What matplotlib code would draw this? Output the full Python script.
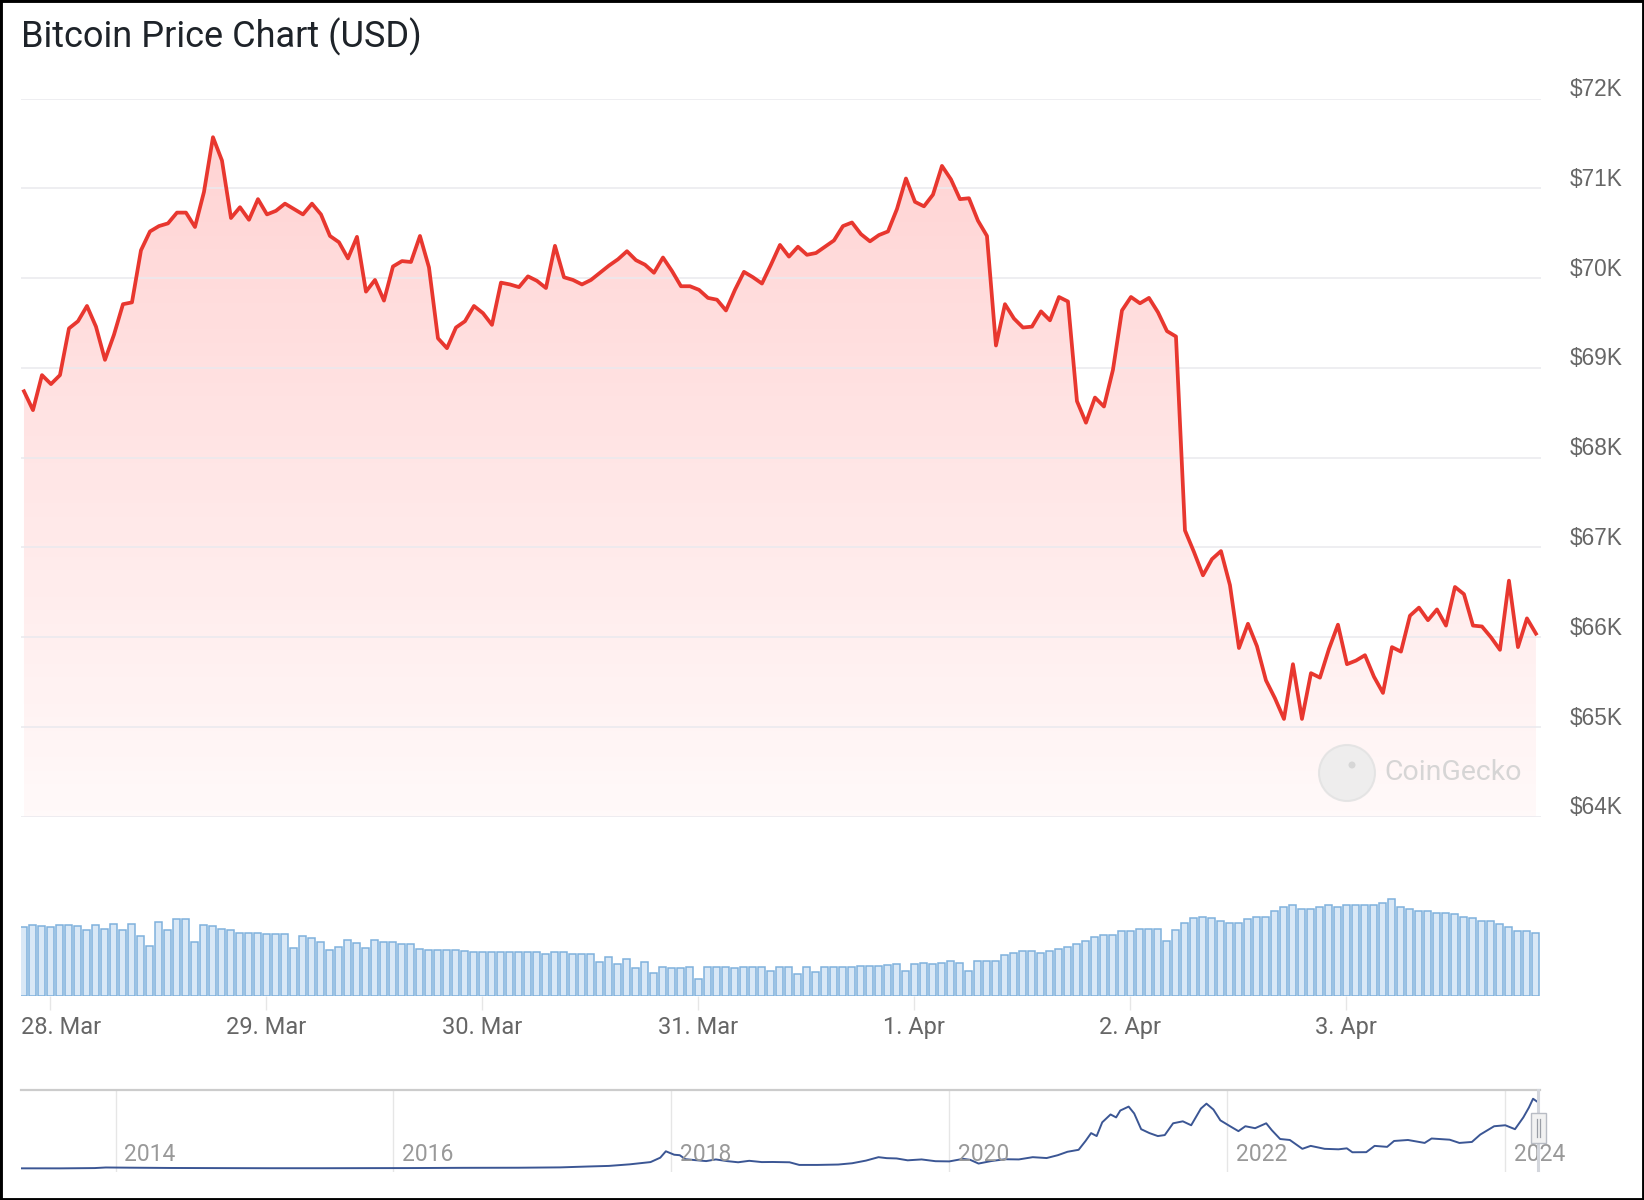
import numpy as np
import pandas as pd
import matplotlib
matplotlib.use("Agg")
import matplotlib.pyplot as plt
import matplotlib.dates as mdates
from matplotlib.transforms import ScaledTranslation, blended_transform_factory
from matplotlib.patches import Polygon, Rectangle, Circle

# ---------------- data ----------------
start_time = "2024-03-27 21:05"   # hourly data

price_k = [
    68.74, 68.53, 68.92, 68.82, 68.92, 69.44, 69.52, 69.69, 69.46, 69.09,
    69.37, 69.71, 69.73, 70.31, 70.52, 70.58, 70.61, 70.73, 70.73, 70.57,
    70.96, 71.57, 71.31, 70.67, 70.79, 70.65, 70.88, 70.71, 70.75, 70.83,
    70.77, 70.71, 70.83, 70.71, 70.47, 70.40, 70.22, 70.46, 69.85, 69.98,
    69.75, 70.13, 70.19, 70.18, 70.47, 70.12, 69.33, 69.22, 69.45, 69.52,
    69.69, 69.61, 69.48, 69.95, 69.93, 69.90,
    70.02, 69.97, 69.89, 70.36, 70.01, 69.98, 69.93, 69.98, 70.06, 70.14,
    70.21, 70.30, 70.20, 70.15, 70.06, 70.23, 70.08, 69.91, 69.91, 69.87,
    69.78, 69.76, 69.64, 69.87, 70.07, 70.01, 69.94, 70.15, 70.37, 70.24,
    70.35, 70.26, 70.28, 70.35, 70.42, 70.58, 70.62, 70.49, 70.41, 70.48,
    70.52, 70.77, 71.11, 70.85, 70.80, 70.93, 71.25, 71.10, 70.88, 70.89,
    70.64, 70.47, 69.25, 69.71, 69.55,
    69.45, 69.46, 69.63, 69.53, 69.79, 69.74, 68.63, 68.39, 68.67, 68.57,
    68.98, 69.64, 69.79, 69.72, 69.78, 69.62, 69.41, 69.35, 67.19, 66.95,
    66.69, 66.87, 66.96, 66.58, 65.88, 66.15, 65.90,
    65.52, 65.32, 65.09, 65.70, 65.09, 65.60, 65.55, 65.87, 66.14, 65.70,
    65.74, 65.80, 65.56, 65.38, 65.89, 65.84, 66.24, 66.33, 66.19, 66.31,
    66.13, 66.56, 66.48, 66.13, 66.12, 66.00, 65.86, 66.63, 65.89, 66.21,
    66.04,
]

volume_b = [
    31.2, 32.1, 31.4, 31.2, 32.1, 32.1, 31.4, 29.6, 32.1, 30.3,
    32.3, 29.6, 32.3, 26.9, 22.4, 33.2, 29.6, 34.8, 34.8, 24.2,
    32.1, 31.4, 30.3, 29.6, 28.5, 28.5, 28.5, 27.8, 27.8, 27.8,
    21.5, 26.9, 26.0, 24.2, 20.6, 22.2, 25.1, 24.0, 21.5, 25.1,
    24.2, 24.2, 23.3, 23.3, 21.3, 20.6, 20.6, 20.6, 20.6, 20.3,
    19.8, 19.8, 19.8, 19.8, 19.8, 19.8, 19.8, 19.8, 19.1, 19.8,
    19.8, 19.1, 18.8, 18.8, 15.2, 17.7, 14.3, 16.8, 12.5, 15.3,
    10.5, 13.2, 12.5, 12.5, 13.2, 7.8,
    13.2, 13.2, 13.2, 12.5, 13.2, 13.2, 13.2, 11.3, 13.2, 13.2,
    10.0, 13.2, 11.0, 13.2, 13.2, 13.2, 13.2, 13.6, 13.6, 13.6, 14.0,
    14.3, 11.3, 14.3, 15.0, 14.3, 15.0, 15.8, 15.0, 11.3, 15.8,
    15.8, 15.8, 18.5, 19.5, 20.3, 20.3, 19.5, 20.3, 21.0, 22.1,
    23.3, 24.8, 26.6, 27.5, 27.5, 29.3, 29.3, 30.0, 30.0, 30.0,
    24.8, 29.6, 33.0, 35.0, 35.6, 35.0, 33.8, 33.0, 33.0, 34.8,
    35.6, 35.6, 38.3, 40.2, 41.0, 39.3, 39.3, 40.1, 41.0, 40.1,
    41.0, 41.0, 41.0, 41.0, 41.9, 43.5, 40.1, 39.0, 38.3, 38.3,
    37.5, 37.5, 36.8, 35.6, 35.0, 33.8, 33.8, 32.3, 31.2, 29.3,
    29.3, 28.2,
]

day_ticks = ["2024-03-28", "2024-03-29", "2024-03-30", "2024-03-31",
             "2024-04-01", "2024-04-02", "2024-04-03"]
day_tick_labels = ["28. Mar", "29. Mar", "30. Mar", "31. Mar",
                   "1. Apr", "2. Apr", "3. Apr"]

price_ticks = [64000, 65000, 66000, 67000, 68000, 69000, 70000, 71000, 72000]
price_tick_labels = ["$64K", "$65K", "$66K", "$67K", "$68K", "$69K",
                     "$70K", "$71K", "$72K"]

nav_years = [2013.32, 2013.60, 2013.85, 2013.93, 2014.10, 2014.40, 2014.80, 2015.10,
             2015.50, 2015.85, 2016.10, 2016.50, 2016.90, 2017.20, 2017.40, 2017.55,
             2017.70, 2017.85, 2017.92, 2017.96, 2018.02, 2018.06, 2018.10, 2018.17,
             2018.25, 2018.32, 2018.40, 2018.48, 2018.56, 2018.65, 2018.73, 2018.85,
             2018.92, 2019.05, 2019.20, 2019.30, 2019.40, 2019.49, 2019.55, 2019.62,
             2019.70, 2019.80, 2019.90, 2020.00, 2020.10, 2020.15, 2020.21, 2020.30,
             2020.40, 2020.50, 2020.60, 2020.70, 2020.78, 2020.85, 2020.93, 2020.98,
             2021.02, 2021.06, 2021.10, 2021.16, 2021.20, 2021.23, 2021.29, 2021.33,
             2021.38, 2021.44, 2021.50, 2021.55, 2021.61, 2021.68, 2021.74, 2021.81,
             2021.85, 2021.90, 2021.95, 2022.02, 2022.08, 2022.13, 2022.20, 2022.28,
             2022.32, 2022.38, 2022.45, 2022.54, 2022.60, 2022.70, 2022.80, 2022.86,
             2022.90, 2023.00, 2023.06, 2023.15, 2023.20, 2023.30, 2023.42, 2023.47,
             2023.60, 2023.67, 2023.76, 2023.82, 2023.92, 2024.00, 2024.07, 2024.13,
             2024.17, 2024.20, 2024.23, 2024.25]
nav_price_k = [0.13, 0.10, 0.40, 1.00, 0.80, 0.50, 0.35, 0.25,
               0.25, 0.35, 0.40, 0.65, 0.75, 1.10, 2.00, 2.60,
               4.20, 6.50, 11.0, 17.5, 14.0, 13.5, 9.5, 8.5,
               7.5, 9.2, 7.5, 6.3, 7.8, 6.5, 6.6, 6.3,
               3.6, 3.6, 4.0, 5.3, 8.0, 11.5, 10.5, 10.2,
               8.3, 9.2, 7.4, 7.2, 9.8, 8.8, 5.0, 7.5,
               9.4, 9.2, 11.5, 10.6, 13.5, 17.0, 19.0, 28.0,
               36.0, 33.0, 47.0, 55.0, 52.0, 59.0, 63.0, 56.0,
               40.0, 36.0, 33.0, 34.0, 46.0, 48.0, 44.0, 61.0,
               66.0, 60.0, 49.0, 43.0, 38.0, 43.0, 41.0, 46.0,
               39.0, 30.0, 29.0, 20.0, 23.0, 20.0, 19.5, 20.5,
               16.5, 16.6, 23.0, 22.0, 28.0, 29.0, 26.0, 30.5,
               29.3, 26.0, 27.0, 34.5, 43.0, 44.0, 40.0, 52.0,
               62.0, 71.0, 68.0, 66.0]
nav_tick_years = [2014, 2016, 2018, 2020, 2022, 2024]

# ---------------- layout helpers ----------------
W, H = 1644, 1200
DPI = 100
fig = plt.figure(figsize=(W / DPI, H / DPI), dpi=DPI)
fig.patch.set_facecolor("white")


def rect(x0, y0, x1, y1):
    """pixel box (y from top) -> figure fraction rect"""
    return [x0 / W, 1 - y1 / H, (x1 - x0) / W, (y1 - y0) / H]


def px_off(dx, dy):
    return ScaledTranslation(dx / DPI, dy / DPI, fig.dpi_scale_trans)


times = pd.date_range(start_time, periods=len(price_k), freq="h")
x = mdates.date2num(times.to_pydatetime())
price = np.array(price_k) * 1000.0
hour = 1.0 / 24.0
xlim = (x[0] - 0.33 * hour, x[-1] + 0.56 * hour)

# ---------------- title ----------------
fig.text(21 / W, 1 - 37 / H, "Bitcoin Price Chart (USD)", fontsize=26,
         family="Roboto", color="#1e2329", va="center", ha="left")

# ---------------- price axes ----------------
ax = fig.add_axes(rect(21, 98.6, 1541, 816.8))
ax.set_facecolor("none")
ax.set_xlim(*xlim)
ax.set_ylim(64000, 72000)

# gradient fill under the line
n_g = 256
alpha = np.linspace(0.24, 0.03, n_g) ** 1.0
img = np.zeros((n_g, 1, 4))
img[..., 0] = 1.0
img[..., 1] = 0.25
img[..., 2] = 0.25
img[..., 3] = alpha[:, None]
im = ax.imshow(img, extent=[xlim[0], xlim[1], 64000, 72000], origin="upper",
               aspect="auto", zorder=1, interpolation="bilinear")
verts = np.column_stack([np.r_[x, x[-1], x[0]], np.r_[price, 64000, 64000]])
poly = Polygon(verts, closed=True, facecolor="none", edgecolor="none")
ax.add_patch(poly)
im.set_clip_path(poly)

ax.plot(x, price, color="#e8372f", lw=2.7, zorder=3, solid_joinstyle="round")
ax.set_xlim(*xlim)
ax.set_ylim(64000, 72000)

ax.set_yticks(price_ticks)
ax.set_yticklabels(price_tick_labels)
ax.yaxis.tick_right()
ax.tick_params(axis="y", length=0, pad=20.6, labelsize=16.3, labelcolor="#666666")
for lab in ax.get_yticklabels():
    lab.set_family("Liberation Sans")
    lab.set_transform(lab.get_transform() + px_off(0, 11.5))
ax.grid(axis="y", color="#e9e9ee", lw=1.1, zorder=0)
ax.set_xticks([])
for s in ax.spines.values():
    s.set_visible(False)

# watermark
fig.patches.append(Circle((13.47, (H - 773) / DPI), 0.28, transform=fig.dpi_scale_trans,
                          facecolor="#ececec", edgecolor="#e2e2e2", lw=1.5, alpha=0.85,
                          zorder=5))
fig.patches.append(Circle((13.52, (H - 765) / DPI), 0.035, transform=fig.dpi_scale_trans,
                          facecolor="#d6d6d6", edgecolor="none", zorder=6))
fig.text(1384 / W, 1 - 772 / H, "CoinGecko", fontsize=20.5, family="Roboto",
         color="#d2d2d2", alpha=0.9, ha="left", va="center", zorder=6)

# ---------------- volume axes ----------------
axv = fig.add_axes(rect(21, 886, 1541, 996))
axv.set_facecolor("none")
axv.bar(x, volume_b, width=0.78 * hour, facecolor="#d9e8f6", edgecolor="#7fb1dc",
        lw=1.1, zorder=2)
axv.set_xlim(*xlim)
axv.set_ylim(0, 49.5)
axv.set_yticks([])
for s in axv.spines.values():
    s.set_visible(False)
day_nums = mdates.date2num(pd.to_datetime(day_ticks).to_pydatetime())
axv.set_xticks(day_nums)
axv.set_xticklabels(day_tick_labels)
axv.tick_params(axis="x", length=10, width=1, color="#e6e6e6", pad=4.5,
                labelsize=17, labelcolor="#666666")
for lab in axv.get_xticklabels():
    lab.set_family("Roboto")
first = axv.get_xticklabels()[0]
first.set_horizontalalignment("left")
first.set_transform(first.get_transform() + px_off(-29.3, 0))

# ---------------- navigator ----------------
axn = fig.add_axes(rect(21, 1090, 1540, 1172))
axn.set_facecolor("none")
axn.set_xlim(2013.32, 2024.25)
axn.set_ylim(-3.6, 79.9)
for yr in nav_tick_years:
    axn.axvline(yr, color="#e6e6e6", lw=1, zorder=0)
axn.plot(nav_years, nav_price_k, color="#3b5694", lw=1.4, zorder=2)
tr = blended_transform_factory(axn.transData, axn.transAxes)
for yr in nav_tick_years:
    axn.text(yr, 0.215, str(yr), transform=tr + px_off(8.4, 0), ha="left",
             va="center", fontsize=16.5, family="Roboto", color="#999999", zorder=3)
axn.set_xticks([])
axn.set_yticks([])
for k, s in axn.spines.items():
    s.set_visible(k == "top")
axn.spines["top"].set_color("#cccccc")
axn.spines["top"].set_linewidth(1.6)

# navigator handle at the right end
fig.add_artist(plt.Line2D([15.38, 15.38], [(H - 1090) / DPI, (H - 1170) / DPI],
                          transform=fig.dpi_scale_trans, color="#d3d6dc", lw=2.2))
fig.patches.append(Rectangle((15.31, (H - 1143) / DPI), 0.15, 0.30,
                             transform=fig.dpi_scale_trans, facecolor="#f2f2f2",
                             edgecolor="#b8bcc4", lw=1.0, zorder=7))
for hx in (15.365, 15.40):
    fig.add_artist(plt.Line2D([hx, hx], [(H - 1137) / DPI, (H - 1119) / DPI],
                              transform=fig.dpi_scale_trans, color="#9a9ea6", lw=0.9,
                              zorder=8))

# outer frame
fig.patches.append(Rectangle((0, 0), 1, 1, transform=fig.transFigure, fill=False,
                             edgecolor="black", lw=3.5, zorder=10))

fig.savefig("out.png", dpi=DPI, facecolor="white")
